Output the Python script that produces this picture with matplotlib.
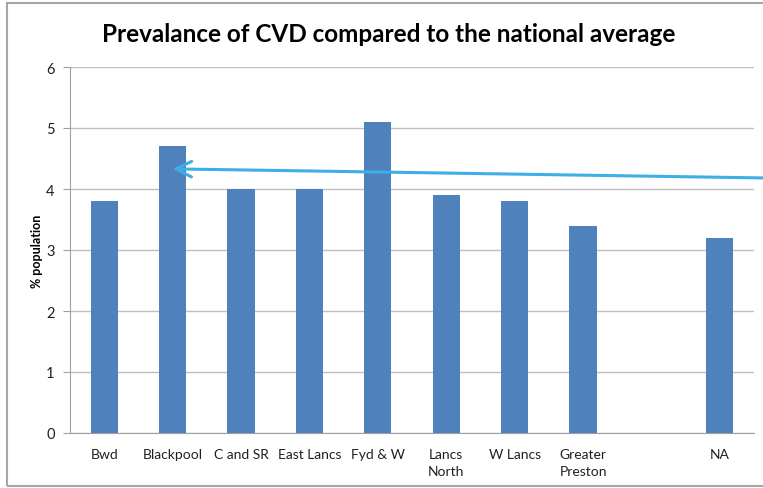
import matplotlib
matplotlib.use("Agg")
from matplotlib import pyplot as plt
from matplotlib.patches import Rectangle
import numpy as np

plt.rcParams['font.family'] = ['Lato', 'DejaVu Sans']

# Data
areas = ['Bwd', 'Blackpool', 'C and SR', 'East Lancs', 'Fyd & W',
         'Lancs\nNorth', 'W Lancs', 'Greater\nPreston', '', 'NA']
prevalence = [3.8, 4.7, 4.0, 4.0, 5.1, 3.9, 3.8, 3.4, 0, 3.2]
arrow_target = (1, 4.33)  # arrow points at Blackpool

fig = plt.figure(figsize=(7.63, 4.89), dpi=100)
W, H = 763, 489
ax = fig.add_axes([70 / W, 1 - 434 / H, 684 / W, 366 / H])

x = np.arange(len(areas))
ax.bar(x, prevalence, width=0.4, color='#4F81BD', zorder=3)

ax.set_xlim(-0.5, len(areas) - 0.5)
ax.set_ylim(0, 6)
ax.set_yticks(np.arange(0, 7, 1))
ax.set_xticks(x)
ax.set_xticklabels(areas, fontsize=10, linespacing=1.45, color='#202020')
ax.tick_params(axis='x', length=0, pad=11)
ax.tick_params(axis='y', length=5, color='#A0A0A0', labelsize=10.5, pad=6,
               labelcolor='#202020')
ax.grid(axis='y', color='#BFBFBF', linewidth=1, zorder=0)
for s in ['top', 'right']:
    ax.spines[s].set_visible(False)
for s in ['left', 'bottom']:
    ax.spines[s].set_color('#A0A0A0')
ax.set_ylabel('% population', fontsize=9, fontweight='bold', labelpad=2)

fig.text(389 / W, 1 - 34 / H, 'Prevalance of CVD compared to the national average',
         ha='center', va='center', fontsize=17.5, fontweight='bold')

# arrow from beyond the right edge to the Blackpool bar
ax.annotate('', xy=arrow_target, xycoords='data',
            xytext=(W + 5, H - 179), textcoords='figure pixels',
            arrowprops=dict(arrowstyle='->', color='#3DAEE6', lw=2.2,
                            mutation_scale=28, shrinkA=0, shrinkB=0),
            annotation_clip=False, zorder=5)

# outer frame
fig.patches.append(Rectangle((7 / W, 2 / H), 1.0, 1 - 6 / H, transform=fig.transFigure,
                             fill=False, edgecolor='#A6A6A6', linewidth=1.5))

fig.savefig('out.png', dpi=100)
